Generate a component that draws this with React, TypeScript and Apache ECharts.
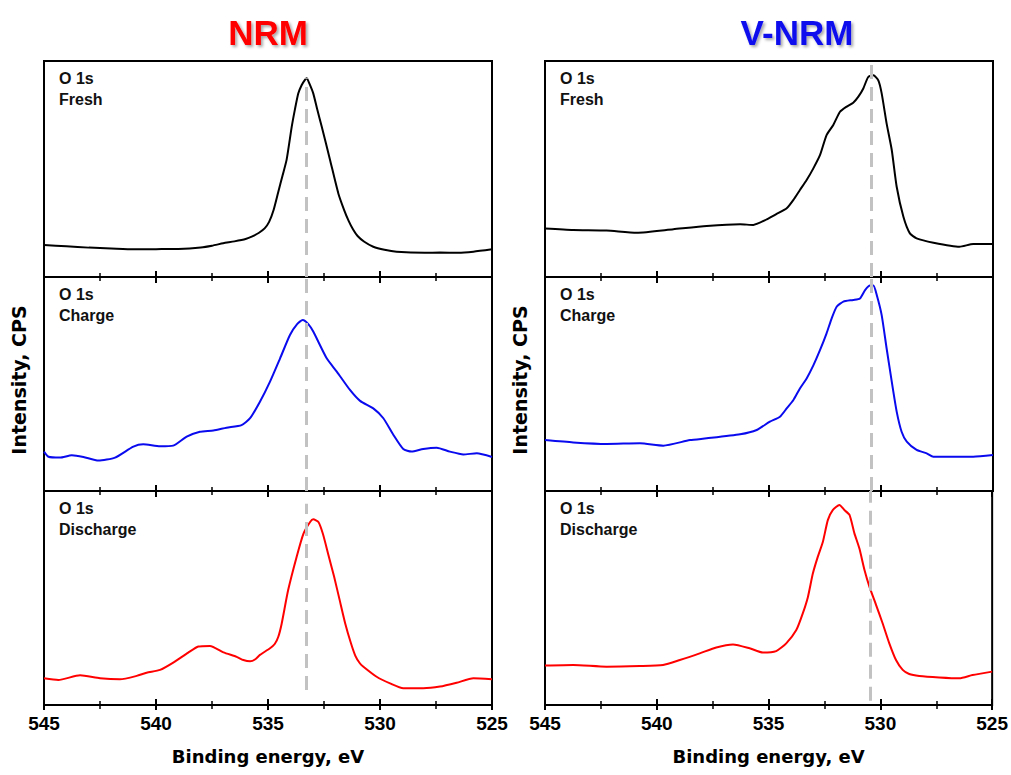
import React, { useEffect, useRef } from "react";
import * as echarts from "echarts";

const columnTitles = ["NRM", "V-NRM"];
const titleColors = ["#ff0000", "#1010ee"];
const panelNames = ["Fresh", "Charge", "Discharge"];
const lineColors = ["#000000", "#0a0aee", "#ff0000"];
const refEnergies = [533.3, 530.45];
const xMin = 525;
const xMax = 545;
const xStep = 5;

// [binding energy (eV), normalized intensity]
const nrmFresh: number[][] = [
  [545, 14.8], [544, 14.2], [543, 13.6], [542, 13.2], [541, 12.8], [540, 12.9], [539, 13], [538, 13.7],
  [537.5, 14.5], [537, 15.6], [536.5, 16.5], [536, 17.6], [535.7, 18.8], [535.4, 20.5], [535.15, 22.5],
  [534.95, 25.5], [534.75, 31], [534.55, 39], [534.35, 47], [534.17, 54.2], [533.94, 69.6], [533.8, 77.5],
  [533.65, 85], [533.5, 88.8], [533.35, 91.3], [533.27, 92], [533.15, 89.5], [532.98, 85], [532.8, 77.5],
  [532.6, 69.6], [532.23, 54.2], [531.86, 38.7], [531.6, 31], [531.4, 26], [531.2, 22], [531, 19],
  [530.7, 16.3], [530.3, 14], [529.8, 12.6], [529.26, 11.7], [528, 11.2], [527.32, 11.3], [526.5, 11.2],
  [525.83, 11.7], [525, 12.8],
];
const nrmCharge: number[][] = [
  [545, 18.4], [544.8, 16], [544.29, 15.6], [543.76, 16.7], [543.24, 15.9], [542.57, 14.2], [541.83, 15.6],
  [541.01, 20.7], [540.57, 21.8], [539.82, 20.9], [539.23, 21.2], [538.63, 25.4], [538.04, 27.7],
  [537.44, 28.3], [536.85, 29.6], [536.18, 30.8], [535.8, 34], [535.36, 41.7], [534.91, 51.1],
  [534.46, 62], [534.02, 72.9], [533.7, 78], [533.45, 79.9], [533.2, 78], [532.98, 74.5], [532.38, 62],
  [531.93, 55.8], [531.34, 47.2], [530.89, 42.1], [530.3, 38.6], [529.85, 34], [529.4, 26.2], [528.96, 19.6],
  [528.59, 18.4], [528.07, 19.6], [527.47, 20.2], [526.88, 18.4], [526.28, 17.1], [525.68, 17.6], [525, 15.9],
];
const nrmDischarge: number[][] = [
  [545, 12.5], [544.36, 11.7], [543.39, 13.9], [542.5, 12.5], [541.61, 12], [540.86, 13.6],
  [540.42, 15.1], [539.82, 16.4], [539.23, 19.8], [538.56, 24.5], [538.11, 27.3], [537.59, 27.6],
  [536.99, 24.6], [536.4, 22.5], [536.1, 21], [535.8, 20.4], [535.55, 21.5], [535.36, 23.4],
  [534.91, 26.5], [534.7, 28.5], [534.54, 31.9], [534.39, 38], [534.1, 53.7], [533.72, 69.3],
  [533.42, 80], [533.12, 85.5], [532.98, 86.8], [532.75, 85.5], [532.55, 80], [532.3, 70], [532.05, 60],
  [531.8, 49], [531.55, 38], [531.3, 29], [531.1, 23], [530.9, 19.5], [530.74, 17.9], [530.15, 13.2],
  [529.55, 10.1], [528.96, 7.8], [528.07, 7.8], [527.32, 8.6], [526.58, 10.4], [525.83, 12.5], [525, 12],
];
const vnrmFresh: number[][] = [
  [545, 22.5], [543.74, 21.8], [542.25, 21.5], [540.91, 20.5], [539.27, 22.1], [537.78, 23.6],
  [536.29, 24.4], [535.7, 24.1], [535.1, 26.7], [534.66, 29.2], [534.21, 31.8], [533.91, 35.7],
  [533.62, 40.3], [533.32, 44.9], [533.02, 50.3], [532.72, 56.5], [532.43, 65.7], [532.13, 70.4],
  [531.83, 76.5], [531.53, 78.9], [531.24, 80.7], [531.01, 83.5], [530.79, 87.3], [530.57, 92.6],
  [530.34, 93.4], [530.12, 91], [529.97, 85], [529.75, 71.1], [529.52, 58.8], [529.3, 41.8],
  [529.0, 27.9], [528.71, 20.2], [528.41, 17.9], [527.66, 15.9], [526.5, 14], [525.88, 15.3], [525, 15.3],
];
const vnrmCharge: number[][] = [
  [545, 23.8], [543.74, 22.7], [542.25, 22], [540.76, 22.3], [539.72, 21.2], [538.53, 23.8],
  [537.78, 24.6], [536.29, 26.5], [535.55, 28.5], [534.96, 32.4], [534.51, 34.7], [534.21, 38.6],
  [533.91, 42.5], [533.62, 47.9], [533.32, 52.6], [533.02, 58.7], [532.72, 65.9], [532.43, 73.7],
  [532.2, 80.7], [531.98, 86.1], [531.68, 88.5], [531.24, 89.3], [530.94, 90], [530.71, 93.9],
  [530.49, 96], [530.34, 96], [530.19, 91.6], [529.97, 82.2], [529.75, 66.7], [529.52, 51.1],
  [529.3, 37.1], [529.08, 27.7], [528.85, 23.1], [528.41, 19.2], [527.96, 17.6], [527.66, 16],
  [526.5, 16], [525.88, 16], [525, 16.8],
];
const vnrmDischarge: number[][] = [
  [545, 18.4], [543.74, 18.7], [542.25, 17.9], [540.76, 18.2], [539.72, 18.7], [538.97, 21],
  [538.08, 24.1], [537.34, 26.9], [536.59, 28.3], [535.85, 26.5], [535.25, 24.5], [534.66, 25.2],
  [534.21, 28.8], [533.76, 35], [533.47, 42.8], [533.24, 50.5], [533.02, 61.4], [532.8, 69.2],
  [532.57, 76.3], [532.35, 86.4], [532.13, 91.1], [531.83, 93.5], [531.61, 91.1], [531.38, 88.8],
  [531.16, 80.2], [530.94, 73.2], [530.71, 63.1], [530.49, 55.3], [530.19, 46.7], [529.9, 38.2],
  [529.6, 28.8], [529.3, 21], [529.0, 16.4], [528.71, 14.5], [528.26, 13.6], [527.37, 12.9],
  [526.47, 12.5], [525.88, 14], [525, 15.6],
];

const panelData = [
  [nrmFresh, nrmCharge, nrmDischarge],
  [vnrmFresh, vnrmCharge, vnrmDischarge],
];
// vertical extent (in intensity units) of each dashed reference line
const refSpans = [
  [[0, 92], [0, 100], [7, 94]],
  [[0, 100], [0, 100], [2, 100]],
];

const FONT = "Liberation Sans, Arial, sans-serif";

export default function App() {
  const ref = useRef<HTMLDivElement>(null);
  useEffect(() => {
    document.body.style.margin = "0";
    const chart = echarts.init(ref.current!, null, { renderer: "svg" });

    const colLefts = [44, 545];
    const colWidth = 448;
    const rows = [
      { top: 61, height: 216 },
      { top: 277, height: 214 },
      { top: 491, height: 214 },
    ];

    const grids: any[] = [];
    const xAxes: any[] = [];
    const yAxes: any[] = [];
    const series: any[] = [];
    const graphics: any[] = [];

    const baseAxis = (gridIndex: number) => ({
      type: "value",
      gridIndex,
      min: xMin,
      max: xMax,
      interval: xStep,
      inverse: true,
      splitLine: { show: false },
      axisLine: { show: true, lineStyle: { color: "#000", width: 2 } },
      axisTick: { show: true, inside: true, length: 6, lineStyle: { color: "#000", width: 2 } },
      minorTick: { show: true, splitNumber: 2, length: 4, lineStyle: { color: "#000", width: 1.5 } },
      axisLabel: { show: false },
    });

    for (let c = 0; c < 2; c++) {
      for (let r = 0; r < 3; r++) {
        const gi = c * 3 + r;
        grids.push({
          left: colLefts[c],
          width: colWidth,
          top: rows[r].top,
          height: rows[r].height,
          show: true,
          borderColor: "#000",
          borderWidth: 2,
          backgroundColor: "transparent",
        });
        const mainIndex = xAxes.length;
        const main: any = { ...baseAxis(gi), position: "bottom" };
        if (r === 2) {
          main.axisLabel = {
            show: true,
            color: "#000",
            fontSize: 19,
            fontWeight: "bold",
            fontFamily: FONT,
            margin: 9,
          };
          main.name = "Binding energy, eV";
          main.nameLocation = "middle";
          main.nameGap = 42;
          main.nameTextStyle = {
            color: "#000",
            fontSize: 18,
            fontWeight: "bold",
            fontFamily: "DejaVu Sans, sans-serif",
          };
        }
        xAxes.push(main);
        if (r > 0) {
          xAxes.push({ ...baseAxis(gi), position: "top", axisLine: { show: false } });
        }
        if (r === 2) {
          const out: any = { ...baseAxis(gi), position: "bottom", axisLine: { show: false } };
          out.axisTick = { show: true, inside: false, length: 5, lineStyle: { color: "#000", width: 2 } };
          xAxes.push(out);
        }
        yAxes.push({ type: "value", gridIndex: gi, min: 0, max: 100, show: false });

        const span = refSpans[c][r];
        series.push({
          type: "line",
          xAxisIndex: mainIndex,
          yAxisIndex: gi,
          data: panelData[c][r],
          showSymbol: false,
          smooth: 0.2,
          lineStyle: { color: lineColors[r], width: 2 },
          z: 3,
          markLine: {
            silent: true,
            symbol: ["none", "none"],
            label: { show: false },
            lineStyle: { color: "#c2c2c2", type: [14, 8], width: 3 },
            data: [[{ coord: [refEnergies[c], span[0]] }, { coord: [refEnergies[c], span[1]] }]],
          },
        });

        graphics.push({
          type: "text",
          x: colLefts[c] + 15,
          y: rows[r].top + 17,
          style: {
            text: "O 1s",
            fill: "#111",
            fontSize: 16,
            fontWeight: "bold",
            fontFamily: FONT,
            verticalAlign: "middle",
          },
        });
        graphics.push({
          type: "text",
          x: colLefts[c] + 15,
          y: rows[r].top + 38,
          style: {
            text: panelNames[r],
            fill: "#111",
            fontSize: 16,
            fontWeight: "bold",
            fontFamily: FONT,
            verticalAlign: "middle",
          },
        });
      }
      graphics.push({
        type: "text",
        x: c === 0 ? 19 : 520,
        y: 380,
        rotation: Math.PI / 2,
        style: {
          text: "Intensity, CPS",
          fill: "#000",
          fontSize: 19,
          fontWeight: "bold",
          fontFamily: "DejaVu Sans, sans-serif",
          align: "center",
          verticalAlign: "middle",
        },
      });
    }

    const titles = columnTitles.map((t, c) => ({
      text: t,
      left: c === 0 ? 263 : 792,
      top: 10,
      textAlign: "center",
      textStyle: {
        color: titleColors[c],
        fontSize: 35,
        fontWeight: "bold",
        fontFamily: FONT,
        textShadowColor: "rgba(0,0,0,0.35)",
        textShadowBlur: 3,
        textShadowOffsetX: 2,
        textShadowOffsetY: 2,
      },
    }));

    chart.setOption({
      animation: false,
      backgroundColor: "#fff",
      title: titles,
      grid: grids,
      xAxis: xAxes,
      yAxis: yAxes,
      series,
      graphic: graphics,
    });
    return () => chart.dispose();
  }, []);
  return <div ref={ref} style={{ width: 1011, height: 775 }} />;
}
